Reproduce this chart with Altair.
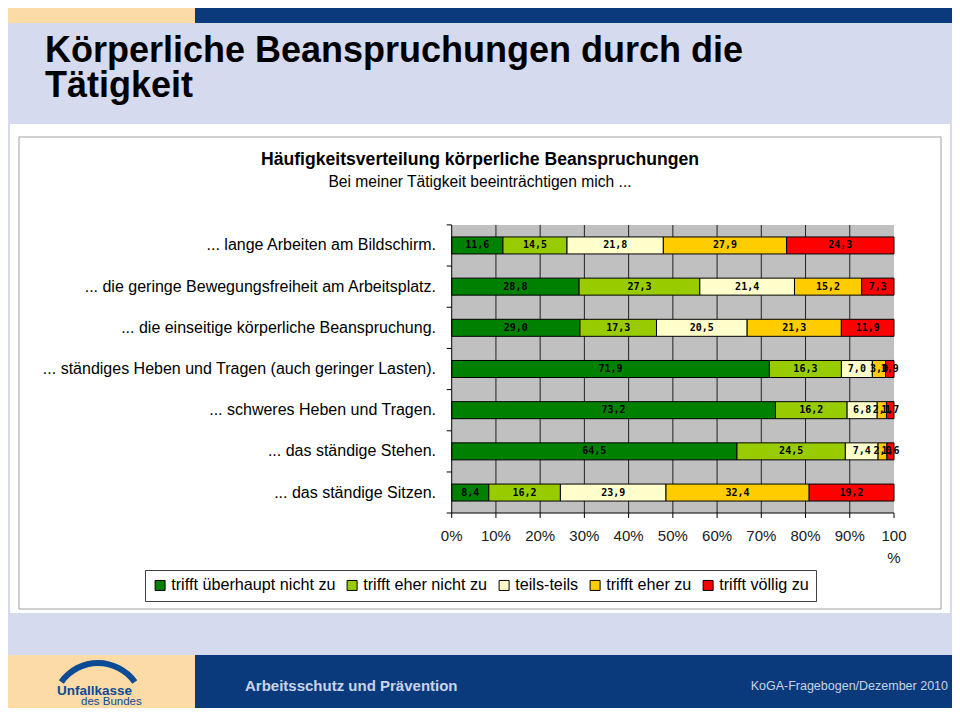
import altair as alt
import pandas as pd

OFF = 8
def px(v):
    return v - OFF

# ---------------- data ----------------
categories = [
    "... lange Arbeiten am Bildschirm.",
    "... die geringe Bewegungsfreiheit am Arbeitsplatz.",
    "... die einseitige körperliche Beanspruchung.",
    "... ständiges Heben und Tragen (auch geringer Lasten).",
    "... schweres Heben und Tragen.",
    "... das ständige Stehen.",
    "... das ständige Sitzen.",
]
responses = ["trifft überhaupt nicht zu", "trifft eher nicht zu", "teils-teils",
             "trifft eher zu", "trifft völlig zu"]
colors = ["#008000", "#99CC00", "#FFFFCC", "#FFCC00", "#FF0000"]

v_ueberhaupt_nicht = [11.6, 28.8, 29.0, 71.9, 73.2, 64.5, 8.4]
v_eher_nicht = [14.5, 27.3, 17.3, 16.3, 16.2, 24.5, 16.2]
v_teils = [21.8, 21.4, 20.5, 7.0, 6.8, 7.4, 23.9]
v_eher_zu = [27.9, 15.2, 21.3, 3.0, 2.1, 2.0, 32.4]
v_voellig = [24.3, 7.3, 11.9, 1.9, 1.7, 1.6, 19.2]

x_ticks = [0, 10, 20, 30, 40, 50, 60, 70, 80, 90, 100]
x_tick_labels = ["0%", "10%", "20%", "30%", "40%", "50%", "60%", "70%", "80%", "90%", "100\n%"]

series = [v_ueberhaupt_nicht, v_eher_nicht, v_teils, v_eher_zu, v_voellig]
rows = []
for i, cat in enumerate(categories):
    vals = [s[i] for s in series]
    total = sum(vals)
    acc = 0.0
    for j, r in enumerate(responses):
        start = acc / total * 100
        acc += vals[j]
        end = acc / total * 100
        rows.append({"cat": cat, "resp": r, "order": j, "value": vals[j],
                     "start": start, "end": end, "mid": (start + end) / 2,
                     "label": f"{vals[j]:.1f}".replace(".", ",")})
df = pd.DataFrame(rows)
grid_df = pd.DataFrame({"t": x_ticks[1:-1]})
xlab_df = pd.DataFrame({"t": x_ticks, "lab": x_tick_labels})
cat_df = pd.DataFrame({"cat": categories})

# ---------------- geometry ----------------
X0, X1 = px(451.7), px(894)
Y0, Y1 = px(225), px(513)
STEP = (Y1 - Y0) / len(categories)
W, H = 944, 700
FONT = "Liberation Sans"

one = alt.Data(values=[{"a": 1}])

def box(x, x2, y, y2, fill, stroke=None, sw=0):
    kw = {}
    if stroke:
        kw = {"stroke": stroke, "strokeWidth": sw}
    return alt.Chart(one).mark_rect(fill=fill, **kw).encode(
        x=alt.value(px(x)), x2=alt.value(px(x2)), y=alt.value(px(y)), y2=alt.value(px(y2)))

def label(text, x, y, size, weight="normal", color="black", align="left", font=FONT):
    return alt.Chart(one).mark_text(text=text, fontSize=size, fontWeight=weight, color=color,
                                    align=align, baseline="alphabetic", font=font).encode(
        x=alt.value(px(x)), y=alt.value(px(y)))

BLUE = "#0B3A7C"
PEACH = "#FDDBA6"
LAV = "#D6DAEE"

# page decoration
top_peach = box(8, 195, 8, 23, PEACH)
top_blue = box(195, 968, 8, 23, BLUE)
foot_peach = box(8, 195, 655, 724, PEACH)
foot_blue = box(195, 968, 655, 724, BLUE)
title1 = label("Körperliche Beanspruchungen durch die", 45, 62, 36, "bold")
title2 = label("Tätigkeit", 45, 97, 36, "bold")
white = box(10, 950, 124, 613, "white")
frame = box(19, 941, 137, 609, "white", "#A0A0A0", 1)
ctitle = label("Häufigkeitsverteilung körperliche Beanspruchungen", 480, 165, 17.6, "bold", align="center")
csub = label("Bei meiner Tätigkeit beeinträchtigen mich ...", 480, 187, 15.6, align="center")
plotbg = alt.Chart(one).mark_rect(fill="#C0C0C0").encode(
    x=alt.value(X0), x2=alt.value(X1), y=alt.value(Y0), y2=alt.value(Y1))

foot_t1 = label("Arbeitsschutz und Prävention", 245, 691, 15, "bold", color="#C9D3E8")
foot_t2 = label("KoGA-Fragebogen/Dezember 2010", 948, 690, 12.5, color="#C9D3E8", align="right")
logo_arc = alt.Chart(one).mark_arc(color="#0B4A94").encode(
    x=alt.value(px(98)), y=alt.value(px(708)),
    theta=alt.value(5.33), theta2=alt.value(7.24),
    radius=alt.value(48), radius2=alt.value(42))
logo_t1 = label("Unfallkasse", 57, 695, 13.5, "bold", color="#0B4A94")
logo_t2 = label("des Bundes", 81, 705, 11.5, color="#0B4A94")

xscale = alt.Scale(domain=[0, 100], range=[X0, X1], nice=False, zero=False)
yscale = alt.Scale(domain=categories, range=[Y0, Y1], paddingInner=0.587, paddingOuter=0.29)

# axes drawn as marks
grid = alt.Chart(grid_df).mark_rule(color="#222222", strokeWidth=1).encode(
    x=alt.X("t:Q", scale=xscale, axis=None),
    y=alt.value(Y0), y2=alt.value(Y1))
xticks = alt.Chart(xlab_df).mark_rule(color="black", strokeWidth=1).encode(
    x=alt.X("t:Q", scale=xscale, axis=None),
    y=alt.value(Y1), y2=alt.value(Y1 + 5))
xlabels = alt.Chart(xlab_df).mark_text(font=FONT, fontSize=15, color="#202020", baseline="top",
                                       lineBreak="\n", lineHeight=22).encode(
    x=alt.X("t:Q", scale=xscale, axis=None),
    y=alt.value(px(529)), text="lab:N")
xdomain = alt.Chart(one).mark_rule(color="black", strokeWidth=1).encode(
    x=alt.value(X0), x2=alt.value(X1), y=alt.value(Y1))
ydomain = alt.Chart(one).mark_rule(color="black", strokeWidth=1).encode(
    x=alt.value(X0), y=alt.value(Y0), y2=alt.value(Y1))
yticks = alt.Chart(cat_df).mark_rule(color="black", strokeWidth=1, yOffset=-STEP / 2).encode(
    y=alt.Y("cat:N", scale=yscale, sort=categories, axis=None),
    x=alt.value(X0 - 5), x2=alt.value(X0))
ytick_last = alt.Chart(one).mark_rule(color="black", strokeWidth=1).encode(
    x=alt.value(X0 - 5), x2=alt.value(X0), y=alt.value(Y1))
ylabels = alt.Chart(cat_df).mark_text(font=FONT, fontSize=16, color="black", align="right",
                                      baseline="middle").encode(
    y=alt.Y("cat:N", scale=yscale, sort=categories, axis=None),
    x=alt.value(px(436)), text="cat:N")

bars = alt.Chart(df).mark_bar(stroke="black", strokeWidth=1).encode(
    x=alt.X("start:Q", scale=xscale, axis=None),
    x2="end:Q",
    y=alt.Y("cat:N", scale=yscale, sort=categories, axis=None),
    color=alt.Color("resp:N", scale=alt.Scale(domain=responses, range=colors), sort=responses,
                    legend=alt.Legend(title=None, orient="none", legendX=px(145), legendY=px(570),
                                      direction="horizontal", symbolType="square", symbolSize=100,
                                      symbolStrokeColor="black", symbolStrokeWidth=1,
                                      labelFont=FONT, labelFontSize=16.2, labelColor="black",
                                      labelLimit=400, labelOffset=3, columnPadding=8, padding=7,
                                      strokeColor="#404040", fillColor="white")),
    order=alt.Order("order:Q"),
)

texts = alt.Chart(df).mark_text(font="DejaVu Sans Mono", fontWeight="bold", fontSize=10,
                                color="black").encode(
    x=alt.X("mid:Q", scale=xscale, axis=None),
    y=alt.Y("cat:N", scale=yscale, sort=categories, axis=None),
    text="label:N")

chart = alt.layer(
    top_peach, top_blue, foot_peach, foot_blue, title1, title2, white, frame,
    ctitle, csub, plotbg, grid, bars, texts,
    xdomain, ydomain, xticks, xlabels, yticks, ytick_last, ylabels,
    foot_t1, foot_t2, logo_arc, logo_t1, logo_t2,
).properties(
    width=W, height=H, padding=0, autosize=alt.AutoSizeParams(type="none"),
    background=LAV,
).configure_view(stroke=None)

chart.save("out.html", embed_options={"renderer": "svg", "actions": False})
